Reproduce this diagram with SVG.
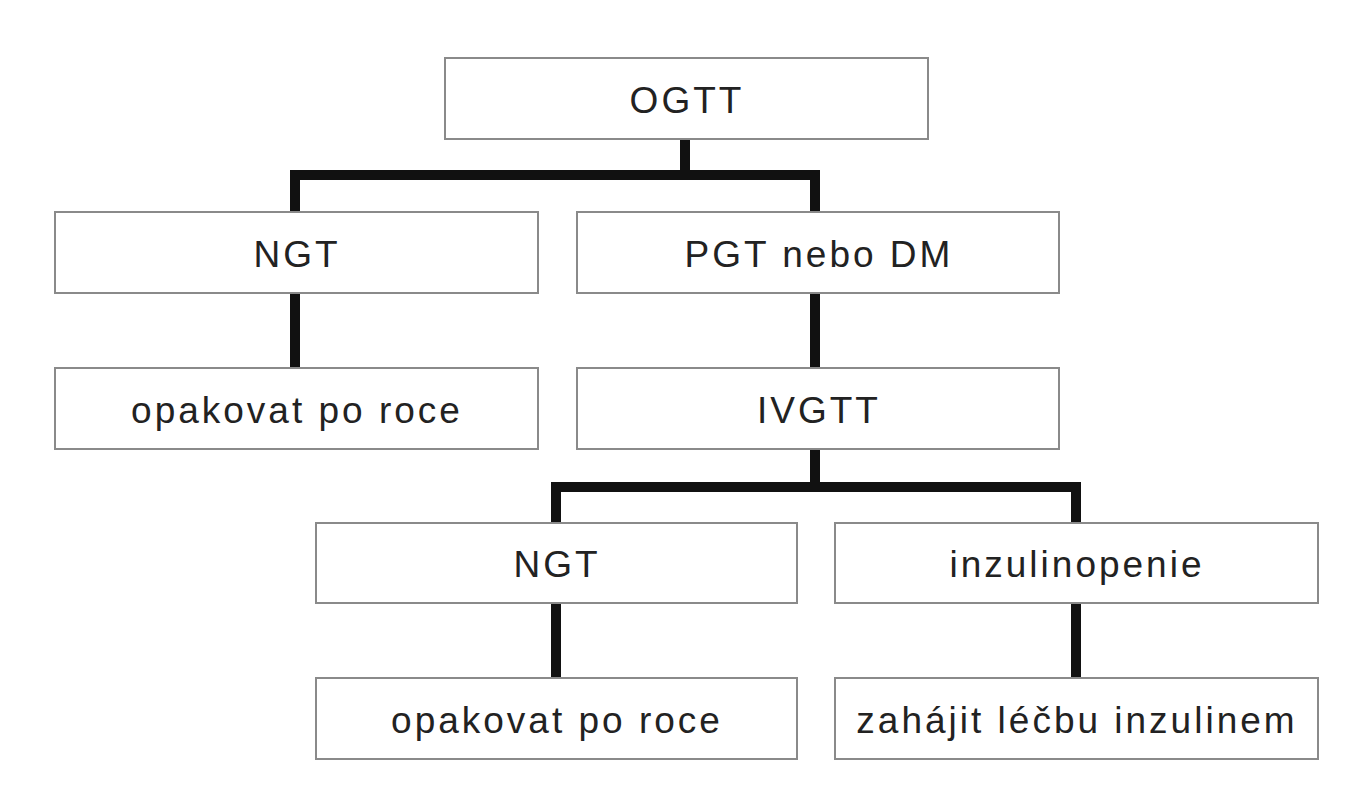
<svg xmlns="http://www.w3.org/2000/svg" width="1349" height="800" viewBox="0 0 1349 800">
<style>
.b{fill:#fff;stroke:#8a8a8a;stroke-width:2}
.t{font-family:"Liberation Sans",Arial,sans-serif;font-size:37px;fill:#222;text-anchor:middle;letter-spacing:3px}
.c{fill:none;stroke:#111;stroke-width:10}
</style>
<rect width="1349" height="800" fill="#fff"/>
<g id="connectors">
<path class="c" d="M685 139V175M295 212V175H815V212"/>
<path class="c" d="M295 293V368"/>
<path class="c" d="M815 293V368"/>
<path class="c" d="M815 449V487M556 523V487H1076V523"/>
<path class="c" d="M556 603V678"/>
<path class="c" d="M1076 603V678"/>
</g>
<g id="ogtt"><rect class="b" x="445" y="58" width="483" height="81"/><text class="t" x="687" y="113">OGTT</text></g>
<g id="ngt1"><rect class="b" x="55" y="212" width="483" height="81"/><text class="t" x="297" y="267">NGT</text></g>
<g id="pgt"><rect class="b" x="577" y="212" width="482" height="81"/><text class="t" x="819" y="267">PGT nebo DM</text></g>
<g id="opak1"><rect class="b" x="55" y="368" width="483" height="81"/><text class="t" x="297" y="423">opakovat po roce</text></g>
<g id="ivgtt"><rect class="b" x="577" y="368" width="482" height="81"/><text class="t" x="819" y="423">IVGTT</text></g>
<g id="ngt2"><rect class="b" x="316" y="523" width="481" height="80"/><text class="t" x="557" y="577">NGT</text></g>
<g id="inzul"><rect class="b" x="835" y="523" width="483" height="80"/><text class="t" x="1077" y="577">inzulinopenie</text></g>
<g id="opak2"><rect class="b" x="316" y="678" width="481" height="81"/><text class="t" x="557" y="733">opakovat po roce</text></g>
<g id="zahajit"><rect class="b" x="835" y="678" width="483" height="81"/><text class="t" x="1077" y="733">zahájit léčbu inzulinem</text></g>
</svg>
